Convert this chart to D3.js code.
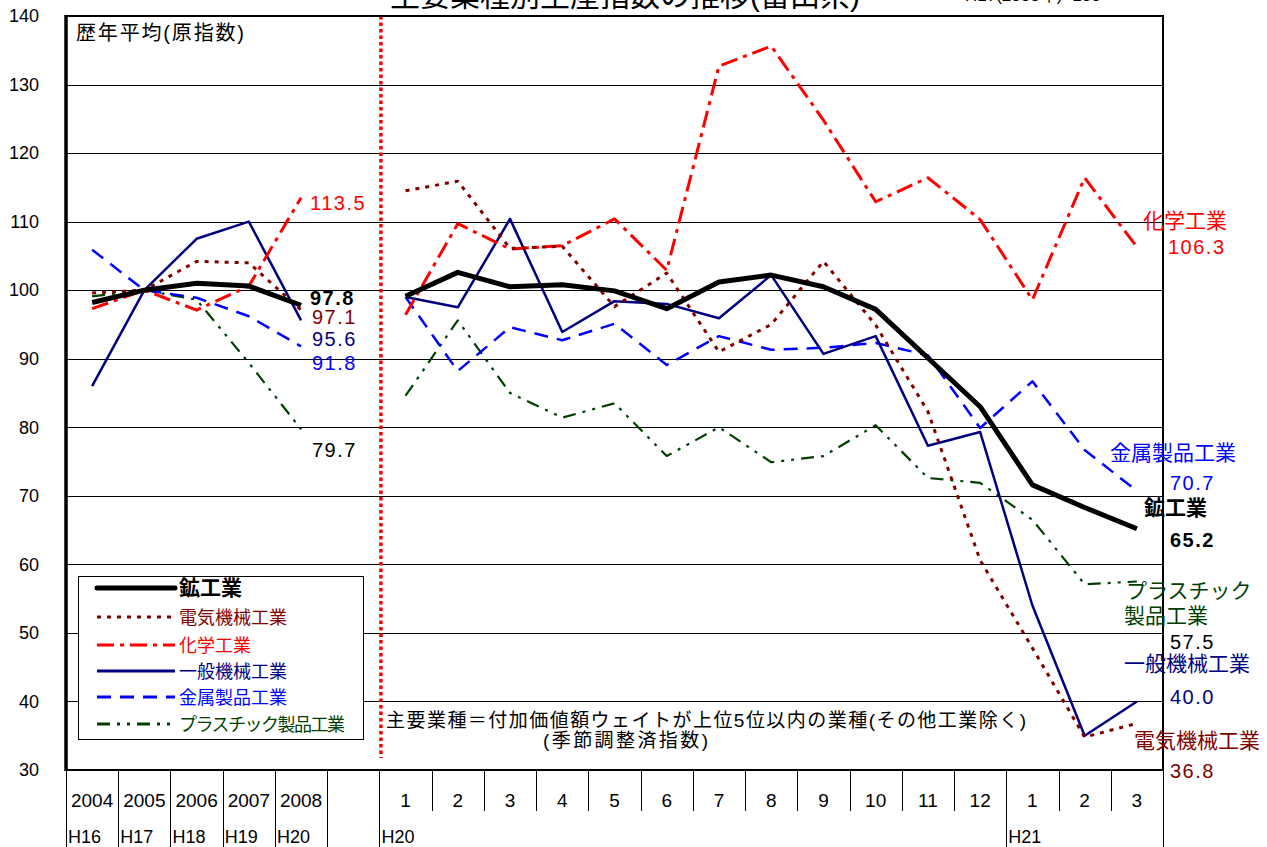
<!DOCTYPE html>
<html>
<head>
<meta charset="utf-8">
<script src="https://cdn.jsdelivr.net/npm/d3@7"></script>
<style>
  body { margin: 0; background: #fff; }
  svg text { font-family: "Liberation Sans", Arial, "Noto Sans CJK JP", sans-serif; }
</style>
</head>
<body>
<div id="chart"></div>
<script>
// annual averages (原指数) and monthly H20.1 - H21.3 (季節調整済)
const years = ["2004", "2005", "2006", "2007", "2008"];
const eras = ["H16", "H17", "H18", "H19", "H20"];
const months = ["1", "2", "3", "4", "5", "6", "7", "8", "9", "10", "11", "12", "1", "2", "3"];
const yTicks = [30, 40, 50, 60, 70, 80, 90, 100, 110, 120, 130, 140];

const seriesNames = ["鉱工業", "電気機械工業", "化学工業", "一般機械工業", "金属製品工業", "プラスチック製品工業"];

const miningAnnual = [98.2, 100.0, 101.0, 100.6, 97.8];
const electricAnnual = [99.6, 100.0, 104.2, 104.0, 97.1];
const chemicalAnnual = [97.3, 100.0, 97.1, 100.6, 113.5];
const machineAnnual = [86.0, 100.0, 107.5, 110.0, 95.6];
const metalAnnual = [105.9, 100.0, 98.9, 96.2, 91.8];
const plasticAnnual = [99.1, 100.0, 98.6, 89.4, 79.7];

const miningMonthly = [99.1, 102.6, 100.5, 100.8, 99.9, 97.3, 101.2, 102.2, 100.5, 97.2, 90.1, 83.0, 71.6, 68.3, 65.2];
const electricMonthly = [114.5, 115.9, 106.1, 106.4, 97.6, 102.5, 91.0, 95.0, 104.2, 94.9, 82.3, 60.6, 47.8, 34.8, 36.8];
const chemicalMonthly = [96.4, 109.7, 106.0, 106.5, 110.4, 102.9, 132.7, 135.6, 124.8, 112.9, 116.4, 110.3, 98.6, 116.4, 106.3];
const machineMonthly = [99.0, 97.5, 110.4, 93.9, 98.4, 98.0, 95.9, 102.2, 90.7, 93.3, 77.3, 79.3, 54.0, 35.0, 40.0];
const metalMonthly = [99.0, 88.2, 94.6, 92.7, 95.1, 89.1, 93.3, 91.3, 91.6, 92.3, 90.5, 79.9, 86.7, 76.7, 70.7];
const plasticMonthly = [84.6, 95.6, 85.0, 81.4, 83.5, 75.8, 80.0, 74.9, 75.8, 80.3, 72.6, 71.9, 66.5, 57.1, 57.5];

const W = 1267, H = 847;
const plotLeft = 66, plotRight = 1163, plotTop = 16, plotBottom = 770;

const yearKeys = years.map(d => "y" + d);
const monthKeys = months.map((d, i) => "m" + i);
const keys = [...yearKeys, "gap", ...monthKeys];

const x = d3.scaleBand().domain(keys).range([plotLeft, plotRight]);
const y = d3.scaleLinear().domain([30, 140]).range([plotBottom, plotTop]);

const svg = d3.select("#chart").append("svg")
  .attr("width", W).attr("height", H);

// gridlines
svg.append("g").selectAll("line")
  .data(yTicks.filter(v => v > 30 && v < 140))
  .enter().append("line")
  .attr("x1", plotLeft).attr("x2", plotRight)
  .attr("y1", d => Math.round(y(d)) + 0.5).attr("y2", d => Math.round(y(d)) + 0.5)
  .attr("stroke", "#000").attr("stroke-width", 1);

// y axis labels
const yAxis = svg.append("g")
  .attr("transform", `translate(${plotLeft},0)`)
  .call(d3.axisLeft(y).tickValues(yTicks).tickSize(0).tickPadding(27));
yAxis.select(".domain").remove();
yAxis.selectAll("text")
  .style("font-size", "18px")
  .attr("fill", "#000")
  .style("font-family", "'Liberation Sans', Arial, sans-serif");

// title (cut off at top edge)
svg.append("text")
  .attr("x", 625).attr("y", 6)
  .attr("text-anchor", "middle")
  .style("font-size", "30px")
  .text("主要業種別生産指数の推移(富山県)");
svg.append("text")
  .attr("x", 965).attr("y", 1)
  .style("font-size", "17px")
  .text("H17(2005年)=100");

svg.append("text")
  .attr("x", 76).attr("y", 40)
  .style("font-size", "20px")
  .attr("textLength", 168)
  .text("歴年平均(原指数)");

// category table under the plot
const table = svg.append("g");
table.append("line")
  .attr("x1", plotLeft).attr("x2", plotRight)
  .attr("y1", plotBottom).attr("y2", plotBottom)
  .attr("stroke", "#000").attr("stroke-width", 1);
const fullDividers = new Set([0, 1, 2, 3, 4, 5, 6, 18, 21]);
d3.range(keys.length + 1).forEach(i => {
  const xx = Math.round(plotLeft + i * x.bandwidth()) + 0.5;
  table.append("line")
    .attr("x1", xx).attr("x2", xx)
    .attr("y1", plotBottom).attr("y2", fullDividers.has(i) ? H : 811)
    .attr("stroke", "#000").attr("stroke-width", 1);
});
table.selectAll("text.year")
  .data(years).enter().append("text")
  .attr("x", (d, i) => x(yearKeys[i]) + x.bandwidth() / 2)
  .attr("y", 807)
  .attr("text-anchor", "middle")
  .style("font-size", "19px")
  .text(d => d);
table.selectAll("text.month")
  .data(months).enter().append("text")
  .attr("x", (d, i) => x(monthKeys[i]) + x.bandwidth() / 2)
  .attr("y", 807)
  .attr("text-anchor", "middle")
  .style("font-size", "19px")
  .text(d => d);
table.selectAll("text.era")
  .data(eras).enter().append("text")
  .attr("x", (d, i) => x(yearKeys[i]) + 2)
  .attr("y", 843)
  .style("font-size", "18px")
  .attr("textLength", 33)
  .text(d => d);
[["H20", monthKeys[0]], ["H21", monthKeys[12]]].forEach(([t, k]) => {
  table.append("text")
    .attr("x", x(k) + 2).attr("y", 843)
    .style("font-size", "18px")
    .attr("textLength", 33)
    .text(t);
});

// separator between annual and monthly parts
svg.append("line")
  .attr("x1", x("gap") + x.bandwidth() + 1.5).attr("x2", x("gap") + x.bandwidth() + 1.5)
  .attr("y1", plotTop).attr("y2", 758)
  .attr("stroke", "#ff0000").attr("stroke-width", 3.5)
  .attr("stroke-dasharray", "3.5,3");

// series
const styles = [
  { color: "#000000", width: 5, dash: null },
  { color: "#800000", width: 3, dash: "4,6" },
  { color: "#ff0000", width: 3, dash: "17,6,4,6" },
  { color: "#000080", width: 2.5, dash: null },
  { color: "#0000ff", width: 2.5, dash: "14,9" },
  { color: "#003f00", width: 2.2, dash: "13,7,3,7,3,7" }
];
const annual = [miningAnnual, electricAnnual, chemicalAnnual, machineAnnual, metalAnnual, plasticAnnual];
const monthly = [miningMonthly, electricMonthly, chemicalMonthly, machineMonthly, metalMonthly, plasticMonthly];

const line = d3.line()
  .x(d => x(d.k) + x.bandwidth() / 2)
  .y(d => y(d.v));

const order = [5, 4, 3, 2, 1, 0];
order.forEach(s => {
  const st = styles[s];
  [annual[s].map((v, i) => ({ k: yearKeys[i], v })),
   monthly[s].map((v, i) => ({ k: monthKeys[i], v }))].forEach(pts => {
    svg.append("path")
      .attr("d", line(pts))
      .attr("fill", "none")
      .attr("stroke", st.color)
      .attr("stroke-width", st.width)
      .attr("stroke-dasharray", st.dash)
      .attr("stroke-linejoin", "round");
  });
});

// frame
svg.append("rect")
  .attr("x", plotLeft).attr("y", plotTop)
  .attr("width", plotRight - plotLeft).attr("height", plotBottom - plotTop)
  .attr("fill", "none").attr("stroke", "#000").attr("stroke-width", 2);
svg.append("line")
  .attr("x1", plotLeft).attr("x2", plotLeft).attr("y1", plotTop - 1).attr("y2", plotBottom + 1)
  .attr("stroke", "#000").attr("stroke-width", 3.5);

// end-value labels, annual part
const numStyle = sel => sel.style("font-size", "20px").style("letter-spacing", "1.5px");
[
  ["113.5", 310, 210, "#ff0000", false],
  ["97.8", 310, 305, "#000", true],
  ["97.1", 312, 324, "#800000", false],
  ["95.6", 312, 346, "#000080", false],
  ["91.8", 312, 370, "#0000ff", false],
  ["79.7", 312, 457, "#000", false]
].forEach(([t, xx, yy, c, b]) => {
  svg.append("text").attr("x", xx).attr("y", yy).attr("fill", c)
    .style("font-weight", b ? "bold" : "normal")
    .call(numStyle).text(t);
});

// end labels, monthly part (outside the frame)
const nameStyle = sel => sel.style("font-size", "21px");
[
  ["化学工業", 1143, 228, "#ff0000"],
  ["金属製品工業", 1110, 460, "#0000ff"],
  ["プラスチック", 1126, 598, "#003f00"],
  ["製品工業", 1124, 623, "#003f00"],
  ["一般機械工業", 1124, 671, "#000080"],
  ["電気機械工業", 1134, 748, "#800000"]
].forEach(([t, xx, yy, c]) => {
  svg.append("text").attr("x", xx).attr("y", yy).attr("fill", c).call(nameStyle).text(t);
});
svg.append("text").attr("x", 1144).attr("y", 515)
  .style("font-size", "21px").style("font-weight", "bold").text("鉱工業");
[
  ["106.3", 1168, 254, "#ff0000", false],
  ["70.7", 1170, 490, "#0000ff", false],
  ["65.2", 1170, 547, "#000", true],
  ["57.5", 1170, 649, "#000", false],
  ["40.0", 1170, 704, "#000080", false],
  ["36.8", 1170, 778, "#800000", false]
].forEach(([t, xx, yy, c, b]) => {
  svg.append("text").attr("x", xx).attr("y", yy).attr("fill", c)
    .style("font-weight", b ? "bold" : "normal")
    .call(numStyle).text(t);
});

// note
svg.append("text").attr("x", 386).attr("y", 727)
  .style("font-size", "19px")
  .attr("textLength", 640)
  .text("主要業種＝付加価値額ウェイトが上位5位以内の業種(その他工業除く)");
svg.append("text").attr("x", 543).attr("y", 747)
  .style("font-size", "19px")
  .attr("textLength", 165)
  .text("(季節調整済指数)");

// legend
const legend = svg.append("g");
legend.append("rect")
  .attr("x", 78.5).attr("y", 576.5).attr("width", 285).attr("height", 163)
  .attr("fill", "#fff").attr("stroke", "#000").attr("stroke-width", 1);
const rowY = [588, 617, 645, 671, 697, 724];
seriesNames.forEach((name, i) => {
  const st = styles[i];
  legend.append("line")
    .attr("x1", 97).attr("x2", 175)
    .attr("y1", rowY[i]).attr("y2", rowY[i])
    .attr("stroke", st.color)
    .attr("stroke-width", i === 0 ? 5 : 3)
    .attr("stroke-dasharray", st.dash)
    .attr("stroke-linecap", i === 0 ? "round" : "butt");
  const t = legend.append("text")
    .attr("x", 179).attr("y", rowY[i] + 7)
    .attr("fill", i === 0 ? "#000" : st.color)
    .style("font-size", i === 0 ? "21px" : "18px")
    .style("font-weight", i === 0 ? "bold" : "normal")
    .text(name);
  if (i === 5) t.attr("textLength", 166);
});
</script>
</body>
</html>
